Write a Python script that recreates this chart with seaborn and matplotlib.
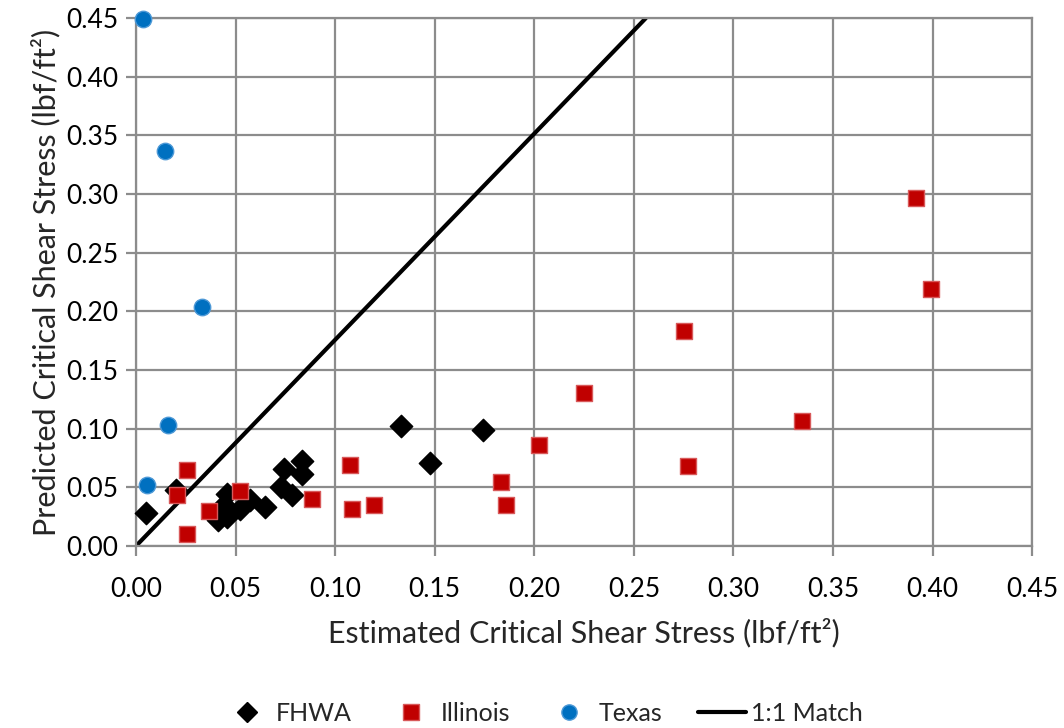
import numpy as np
import pandas as pd
import matplotlib
matplotlib.use("Agg")
import matplotlib.pyplot as plt
from matplotlib.lines import Line2D
import seaborn as sns

# Estimated vs. predicted critical shear stress (lbf/ft^2) by data source
fhwa_x = [0.0049, 0.0199, 0.0413, 0.0455, 0.0446, 0.0443, 0.0458, 0.0522, 0.0572,
          0.0650, 0.0727, 0.0744, 0.0781, 0.0834, 0.0834, 0.1329, 0.1474, 0.1742]
fhwa_y = [0.0284, 0.0480, 0.0218, 0.0247, 0.0304, 0.0346, 0.0446, 0.0318, 0.0389,
          0.0332, 0.0503, 0.0660, 0.0432, 0.0724, 0.0617, 0.1023, 0.0711, 0.0986]

illinois_x = [0.0204, 0.0257, 0.0257, 0.0366, 0.0522, 0.0885, 0.1073, 0.1085, 0.1195,
              0.1834, 0.1856, 0.2023, 0.2252, 0.2753, 0.2770, 0.3347, 0.3918, 0.3990]
illinois_y = [0.0438, 0.0645, 0.0105, 0.0298, 0.0468, 0.0397, 0.0688, 0.0312, 0.0352,
              0.0545, 0.0346, 0.0864, 0.1308, 0.1834, 0.0682, 0.1066, 0.2969, 0.2187]

texas_x = [0.0037, 0.0145, 0.0333, 0.0162, 0.0054]
texas_y = [0.449, 0.337, 0.204, 0.103, 0.052]

match_x = [0.0, 0.256]
match_y = [0.0, 0.45]

ticks = [0.00, 0.05, 0.10, 0.15, 0.20, 0.25, 0.30, 0.35, 0.40, 0.45]

df = pd.concat([
    pd.DataFrame({"x": fhwa_x, "y": fhwa_y, "source": "FHWA"}),
    pd.DataFrame({"x": illinois_x, "y": illinois_y, "source": "Illinois"}),
    pd.DataFrame({"x": texas_x, "y": texas_y, "source": "Texas"}),
], ignore_index=True)

sns.set_theme(style="white")
plt.rcParams["font.family"] = ["Lato", "DejaVu Sans"]

fig = plt.figure(figsize=(10.64, 7.28), dpi=100)
ax = fig.add_axes([0.1278, 0.25, 0.8422, 0.725])

grid_c = "#8c8c8c"

# 1:1 reference line drawn first, beneath the markers
ax.plot(match_x, match_y, color="black", lw=3, zorder=2)

styles = {
    "FHWA": dict(marker="D", color="black", edgecolor="black", s=130),
    "Illinois": dict(marker="s", color="#C00000", edgecolor="#D8595A", s=125),
    "Texas": dict(marker="o", color="#0070C0", edgecolor="#4C98D6", s=140),
}
for src in ["FHWA", "Illinois", "Texas"]:
    st = styles[src]
    sns.scatterplot(data=df[df["source"] == src], x="x", y="y", ax=ax,
                    marker=st["marker"], color=st["color"], s=st["s"],
                    edgecolor=st["edgecolor"], linewidth=1.0, zorder=3,
                    legend=False, clip_on=False)

ax.set_xlim(0, 0.45)
ax.set_ylim(0, 0.45)
ax.set_xticks(ticks)
ax.set_yticks(ticks)
ax.set_xticklabels([f"{t:.2f}" for t in ticks])
ax.set_yticklabels([f"{t:.2f}" for t in ticks])
ax.grid(True, color=grid_c, lw=1.6)
ax.set_axisbelow(True)
for sp in ax.spines.values():
    sp.set_color(grid_c)
    sp.set_linewidth(1.6)
ax.tick_params(axis="both", which="major", direction="out", length=7, width=1.6,
               color=grid_c, labelsize=19, labelcolor="black",
               bottom=True, left=True)
ax.tick_params(axis="x", pad=15)
ax.tick_params(axis="y", pad=6)

ax.set_xlabel("Estimated Critical Shear Stress (lbf/ft²)", fontsize=22, labelpad=12)
ax.set_ylabel("Predicted Critical Shear Stress (lbf/ft²)", fontsize=22, labelpad=4)

handles = [
    Line2D([], [], ls="none", marker="D", color="black", markersize=10),
    Line2D([], [], ls="none", marker="s", markerfacecolor="#C00000",
           markeredgecolor="#D8595A", markersize=11),
    Line2D([], [], ls="none", marker="o", markerfacecolor="#0070C0",
           markeredgecolor="#4C98D6", markersize=11),
    Line2D([], [], color="black", lw=3),
]
fig.legend(handles, ["FHWA", "Illinois", "Texas", "1:1 Match"], loc="center",
           bbox_to_anchor=(0.51, 0.02), ncol=4, frameon=False, fontsize=18,
           handlelength=1.95, columnspacing=1.4, handletextpad=0.2)

fig.savefig("out.png", dpi=100, facecolor="white")
